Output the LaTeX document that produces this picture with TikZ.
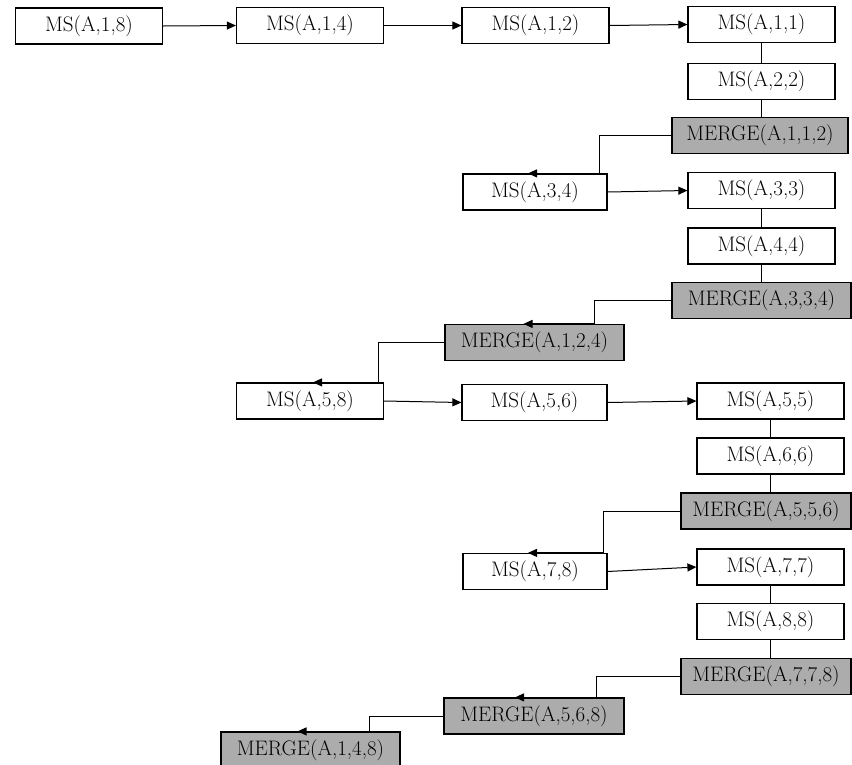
\documentclass[tikz,border=0pt]{standalone}
\usepackage{fontspec}
\setmainfont{Latin Modern Roman}
\usetikzlibrary{arrows.meta}
\definecolor{mergegray}{RGB}{172,172,172}
\tikzset{
    box/.style={draw, line width=1.2pt, fill=white, inner sep=0pt,
        minimum width=147pt, minimum height=36pt,
        font=\fontsize{21}{23}\selectfont},
    mbox/.style={box, fill=mergegray, minimum width=179pt},
    call/.style={-{Triangle[length=9pt,width=8pt]}, line width=1pt},
    link/.style={line width=1pt}
}
\begin{document}
\begin{tikzpicture}[x=1pt, y=-1pt]
\useasboundingbox (0,0) rectangle (852,764);

% 第一层：MS(A,1,8) 拆分到底
\node[box] (ms18) at (89,26) {MS(A,1,8)};
\node[box] (ms14) at (310,25.5) {MS(A,1,4)};
\node[box] (ms12) at (535.5,25.5) {MS(A,1,2)};
\node[box] (ms11) at (761.5,24.5) {MS(A,1,1)};
\node[box] (ms22) at (761.5,81.5) {MS(A,2,2)};
\node[mbox, minimum width=176pt] (mg112) at (760,135.5) {MERGE(A,1,1,2)};

% 右半 MS(A,3,4)
\node[box, minimum width=144pt] (ms34) at (535,192) {MS(A,3,4)};
\node[box] (ms33) at (761.5,190.5) {MS(A,3,3)};
\node[box] (ms44) at (761.5,246) {MS(A,4,4)};
\node[mbox] (mg334) at (761.5,300.5) {MERGE(A,3,3,4)};
\node[mbox] (mg124) at (534.5,342.5) {MERGE(A,1,2,4)};

% 第二层：MS(A,5,8)
\node[box] (ms58) at (310,401) {MS(A,5,8)};
\node[box, minimum width=145pt] (ms56) at (534.5,402.5) {MS(A,5,6)};
\node[box] (ms55) at (770.5,401) {MS(A,5,5)};
\node[box] (ms66) at (770.5,456) {MS(A,6,6)};
\node[mbox, minimum width=170pt] (mg556) at (766,511) {MERGE(A,5,5,6)};

% 右半 MS(A,7,8)
\node[box, minimum width=144pt] (ms78) at (535,571.5) {MS(A,7,8)};
\node[box] (ms77) at (770.5,567) {MS(A,7,7)};
\node[box] (ms88) at (770.5,621.5) {MS(A,8,8)};
\node[mbox, minimum width=170pt] (mg778) at (766,676.5) {MERGE(A,7,7,8)};
\node[mbox, minimum width=180pt] (mg568) at (534,716) {MERGE(A,5,6,8)};
\node[mbox] (mg148) at (310.5,750) {MERGE(A,1,4,8)};

% 调用箭头
\draw[call] (ms18.east) -- (ms14.west);
\draw[call] (ms14.east) -- (ms12.west);
\draw[call] (ms12.east) -- (ms11.west);
\draw[call] (ms34.east) -- (ms33.west);
\draw[call] (ms58.east) -- (ms56.west);
\draw[call] (ms56.east) -- (ms55.west);
\draw[call] (ms78.east) -- (ms77.west);

% 竖直连线
\draw[link] (ms11.south) -- (ms22.north);
\draw[link] (ms22.south) -- (ms22.south |- mg112.north);
\draw[link] (ms33.south) -- (ms44.north);
\draw[link] (ms44.south) -- (mg334.north);
\draw[link] (ms55.south) -- (ms66.north);
\draw[link] (ms66.south) -- (ms66.south |- mg556.north);
\draw[link] (ms77.south) -- (ms88.north);
\draw[link] (ms88.south) -- (ms88.south |- mg778.north);

% 返回箭头（沿上边线向左）
\draw[call] (mg112.west) -| ([xshift=-8pt]ms34.north east) -- ([xshift=-7pt]ms34.north);
\draw[call] (mg334.west) -| ([xshift=-30pt]mg124.north east) -- ([xshift=-11pt]mg124.north);
\draw[call] (mg124.west) -| ([xshift=-6pt]ms58.north east) -- ([xshift=3pt]ms58.north);
\draw[call] (mg556.west) -| ([xshift=-4pt]ms78.north east) -- ([xshift=-7pt]ms78.north);
\draw[call] (mg778.west) -| ([xshift=-28pt]mg568.north east) -- ([xshift=-19pt]mg568.north);
\draw[call] (mg568.west) -| ([xshift=-31pt]mg148.north east) -- ([xshift=-13pt]mg148.north);
\end{tikzpicture}
\end{document}
